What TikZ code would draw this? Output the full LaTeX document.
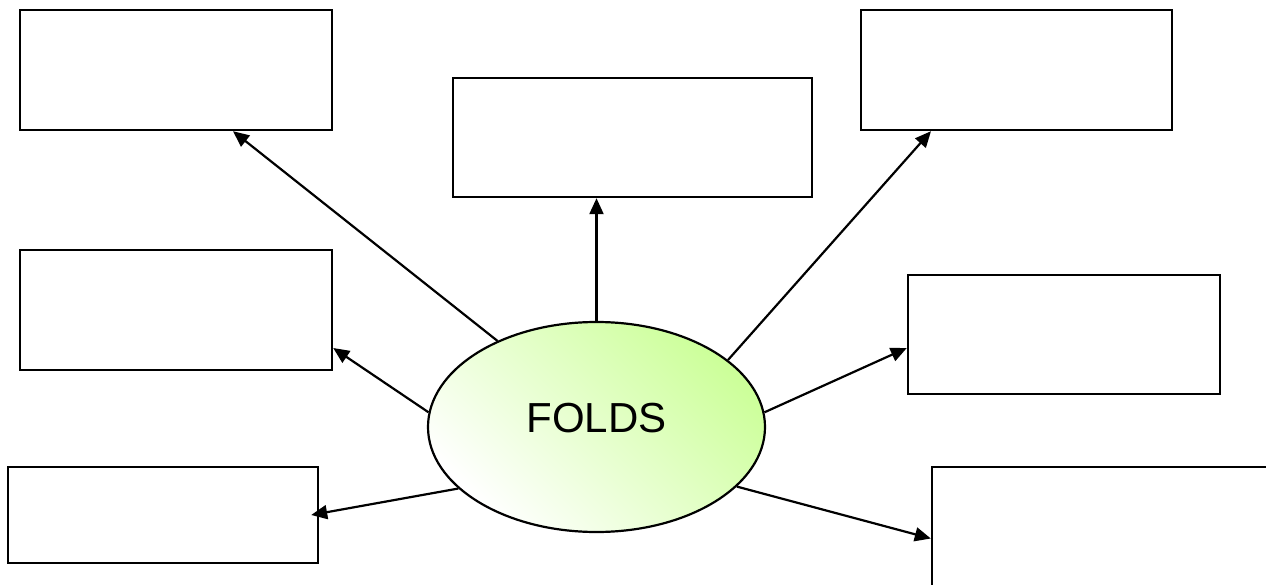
\documentclass[tikz,border=0pt]{standalone}
\usepackage{fontspec}
\setmainfont{Liberation Sans}
\usetikzlibrary{shapes.geometric,arrows.meta,calc}
\definecolor{foldgreen}{RGB}{204,255,153}
\tikzset{
  blankbox/.style={draw=black, line width=2.4pt, fill=white, rectangle, inner sep=0pt},
  hub/.style={draw=black, line width=2.2pt, ellipse, inner sep=0pt,
    minimum width=337pt, minimum height=210pt,
    top color=foldgreen, bottom color=white, shading angle=-45},
  link/.style={line width=2.2pt, -{Triangle[length=16pt,width=14pt]}}
}
\begin{document}
\begin{tikzpicture}[x=1pt,y=-1pt]
\useasboundingbox (0,0) rectangle (1266,585);
% outer boxes
\node[blankbox, minimum width=312pt, minimum height=120pt] (tl) at (176,70) {};
\node[blankbox, minimum width=359pt, minimum height=119pt] (tc) at (632.5,137.5) {};
\node[blankbox, minimum width=311pt, minimum height=120pt] (tr) at (1016.5,70) {};
\node[blankbox, minimum width=312pt, minimum height=120pt] (ml) at (176,310) {};
\node[blankbox, minimum width=312pt, minimum height=119pt] (mr) at (1064,334.5) {};
\node[blankbox, minimum width=310pt, minimum height=96pt] (bl) at (163,515) {};
\node[blankbox, minimum width=348pt, minimum height=143pt] (br) at (1106,538.5) {};
% central ellipse
\node[hub] (ell) at (596.5,427) {};
\node[font=\fontsize{42}{50}\selectfont, inner sep=0pt] (lbl) at ([yshift=9pt]ell.center) {FOLDS};
% connectors
\draw[link] (ell.139) -- ([xshift=57pt]tl.south);
\draw[link] (ell.north) -- (ell.north |- tc.south);
\draw[link] (ell.27) -- ([xshift=-85.5pt]tr.south);
\draw[link] (ell.175) -- ([yshift=-38pt]ml.east);
\draw[link] (ell.5) -- ([yshift=-13.5pt]mr.west);
\draw[link] (ell.204) -- ([xshift=-8pt]bl.east);
\draw[link] (ell.337) -- (br.west);
\end{tikzpicture}
\end{document}
